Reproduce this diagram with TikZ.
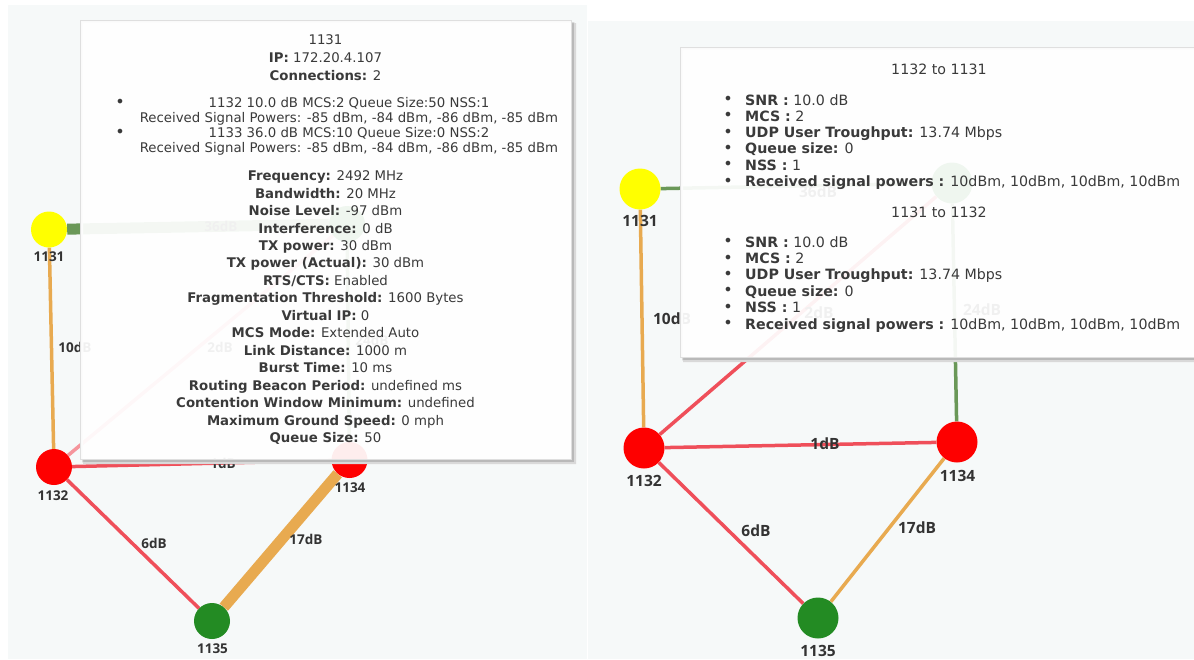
\documentclass[tikz,border=0pt]{standalone}
\usepackage{fontspec}
\setmainfont{DejaVu Sans}
\newfontfamily\lblfont{Open Sans}
\definecolor{panelbg}{HTML}{F6F9F9}
\definecolor{nyellow}{HTML}{FFFF00}
\definecolor{nred}{HTML}{FE0000}
\definecolor{ngreen}{HTML}{238B23}
\definecolor{ered}{HTML}{EF4F5A}
\definecolor{eorange}{HTML}{E8AA50}
\definecolor{egreen}{HTML}{6A9858}
\definecolor{lblgray}{HTML}{333333}
\definecolor{tipgray}{HTML}{3A3A3A}
\pgfdeclarelayer{panel}
\pgfdeclarelayer{edges}
\pgfdeclarelayer{tip}
\pgfsetlayers{panel,edges,main,tip}
\begin{document}
\begin{tikzpicture}[x=1pt,y=-1pt,
  vert/.style={circle,draw=none,inner sep=0pt,minimum size=36pt},
  vertR/.style={circle,draw=none,inner sep=0pt,minimum size=41pt},
  ylw/.style={fill=nyellow},
  rd/.style={fill=nred},
  grn/.style={fill=ngreen},
  nlblL/.style={font=\lblfont\bfseries\fontsize{13.5}{14}\selectfont,text=lblgray,inner sep=0pt},
  nlblR/.style={font=\lblfont\bfseries\fontsize{15.5}{16}\selectfont,text=lblgray,inner sep=0pt},
  redge/.style={draw=ered,line width=3.5pt},
  oedge/.style={draw=eorange,line width=3.5pt},
  gedge/.style={draw=egreen,line width=3.5pt},
  tipbox/.style={fill=white,fill opacity=0.93,draw=gray!25,line width=0.6pt},
  tipL/.style={font=\fontsize{13.3}{15}\selectfont,text=tipgray,inner sep=0pt,anchor=base},
  tipR/.style={font=\fontsize{14.2}{16}\selectfont,text=tipgray,inner sep=0pt,anchor=base},
  bul/.style={font=\fontsize{16}{16}\selectfont,text=tipgray,inner sep=0pt}
]
\useasboundingbox (0,0) rectangle (1194,659);
\begin{pgfonlayer}{panel}
  \fill[white] (0,0) rectangle (1194,659);
  \fill[panelbg] (8,5) rectangle (587,659);
  \fill[panelbg] (588,21) rectangle (1194,659);
\end{pgfonlayer}

% ---------------- left graph ----------------
\node[vert,ylw] (a1131) at (49,229.5) {};
\node[vert,rd]  (a1132) at (54,467) {};
\node[vert,grn] (a1133) at (347,224) {};
\node[vert,rd]  (a1134) at (349.5,460) {};
\node[vert,grn] (a1135) at (212,621) {};
\node[nlblL] (la1131) at (49,257) {1131};
\node[nlblL] (la1132) at (53,495.5) {1132};
\node[nlblL] (la1134) at (350,487.5) {1134};
\node[nlblL] (la1135) at (212.5,649) {1135};
\begin{pgfonlayer}{edges}
  \draw[gedge,line width=11pt] (a1131) -- (a1133);
  \draw[oedge] (a1131) -- (a1132);
  \draw[redge,draw=ered!60] (a1132) -- (a1133);
  \draw[redge] (a1132) -- (a1134);
  \draw[redge] (a1132) -- (a1135);
  \draw[oedge,line width=11pt] (a1134) -- (a1135);
  \draw[gedge] (a1133) -- (a1134);
\end{pgfonlayer}
\node[nlblL] (ea36) at (221,226) {36dB};
\node[nlblL] (ea10) at (75,347) {10dB};
\node[nlblL] (ea2)  at (220,347) {2dB};
\node[nlblL] (ea24) at (372,340) {24dB};
\node[nlblL] (ea1)  at (223,463) {1dB};
\node[nlblL] (ea6)  at (154,543) {6dB};
\node[nlblL] (ea17) at (306,539) {17dB};

% ---------------- right graph ----------------
\node[vertR,ylw] (b1131) at (640,189) {};
\node[vertR,rd]  (b1132) at (644,448) {};
\node[vertR,grn] (b1133) at (952,183) {};
\node[vertR,rd]  (b1134) at (957,442) {};
\node[vertR,grn] (b1135) at (818,618) {};
\node[nlblR] (lb1131) at (640,221) {1131};
\node[nlblR] (lb1132) at (644,481) {1132};
\node[nlblR] (lb1134) at (957.5,476) {1134};
\node[nlblR] (lb1135) at (818,651) {1135};
\begin{pgfonlayer}{edges}
  \draw[gedge] (b1131) -- (b1133);
  \draw[oedge] (b1131) -- (b1132);
  \draw[redge] (b1132) -- (b1133);
  \draw[redge] (b1132) -- (b1134);
  \draw[redge] (b1132) -- (b1135);
  \draw[oedge] (b1134) -- (b1135);
  \draw[gedge] (b1133) -- (b1134);
\end{pgfonlayer}
\node[nlblR] (eb36) at (818,192) {36dB};
\node[nlblR] (eb10) at (672,318.5) {10dB};
\node[nlblR] (eb2)  at (819,313) {2dB};
\node[nlblR] (eb24) at (982,310) {24dB};
\node[nlblR] (eb1)  at (825,444) {1dB};
\node[nlblR] (eb6)  at (756,531) {6dB};
\node[nlblR] (eb17) at (917,528) {17dB};

% ---------------- tooltips ----------------
\begin{pgfonlayer}{tip}
  % left tooltip shadow + box
  \fill[even odd rule,gray!55] (82,22) rectangle (574,462) (80,20) rectangle (571,459);
  \fill[even odd rule,gray!30] (83,23) rectangle (576,464) (82,22) rectangle (574,462);
  \path[tipbox] (80,20) rectangle (571,459);
  % right tooltip shadow + box
  \fill[even odd rule,gray!55] (682,49) rectangle (1196,360) (680,47) rectangle (1196,357);
  \fill[even odd rule,gray!30] (683,50) rectangle (1196,362) (682,49) rectangle (1196,360);
  \path[tipbox] (680,47) rectangle (1200,357);

  % left tooltip text
  \node[tipL] (tl1) at (325.5,44) {1131};
  \node[tipL] (tl2) at (325.5,62) {\textbf{IP:} 172.20.4.107};
  \node[tipL] (tl3) at (325.5,80) {\textbf{Connections:} 2};
  \node[bul] (bl1) at (120,103) {•};
  \node[bul] (bl2) at (120,133) {•};
  \node[tipL] (tl4) at (349,107) {1132 10.0 dB MCS:2 Queue Size:50 NSS:1};
  \node[tipL] (tl5) at (349,122) {Received Signal Powers: -85 dBm, -84 dBm, -86 dBm, -85 dBm};
  \node[tipL] (tl6) at (349,137.5) {1133 36.0 dB MCS:10 Queue Size:0 NSS:2};
  \node[tipL] (tl7) at (349,152.5) {Received Signal Powers: -85 dBm, -84 dBm, -86 dBm, -85 dBm};
  \foreach \txt [count=\i] in {
    {\textbf{Frequency:} 2492 MHz},
    {\textbf{Bandwidth:} 20 MHz},
    {\textbf{Noise Level:} -97 dBm},
    {\textbf{Interference:} 0 dB},
    {\textbf{TX power:} 30 dBm},
    {\textbf{TX power (Actual):} 30 dBm},
    {\textbf{RTS/CTS:} Enabled},
    {\textbf{Fragmentation Threshold:} 1600 Bytes},
    {\textbf{Virtual IP:} 0},
    {\textbf{MCS Mode:} Extended Auto},
    {\textbf{Link Distance:} 1000 m},
    {\textbf{Burst Time:} 10 ms},
    {\textbf{Routing Beacon Period:} undefined ms},
    {\textbf{Contention Window Minimum:} undefined},
    {\textbf{Maximum Ground Speed:} 0 mph},
    {\textbf{Queue Size:} 50}}
    \node[tipL] (tp\i) at (325.5,{180.7+(\i-1)*17.45}) {\txt};

  % right tooltip text
  \node[tipR] (tr1) at (939,74) {1132 to 1131};
  \node[tipR] (tr2) at (939,217) {1131 to 1132};
  \foreach \txt [count=\i] in {
    {\textbf{SNR :} 10.0 dB},
    {\textbf{MCS :} 2},
    {\textbf{UDP User Troughput:} 13.74 Mbps},
    {\textbf{Queue size:} 0},
    {\textbf{NSS :} 1},
    {\textbf{Received signal powers :} 10dBm, 10dBm, 10dBm, 10dBm}}
  {
    \node[tipR,anchor=base west] (ra\i) at (745,{105+(\i-1)*16.3}) {\txt};
    \node[bul] (rab\i) at (728,{100.5+(\i-1)*16.3}) {•};
    \node[tipR,anchor=base west] (rb\i) at (745,{247+(\i-1)*16.4}) {\txt};
    \node[bul] (rbb\i) at (728,{242.5+(\i-1)*16.4}) {•};
  }
\end{pgfonlayer}
\end{tikzpicture}
\end{document}
